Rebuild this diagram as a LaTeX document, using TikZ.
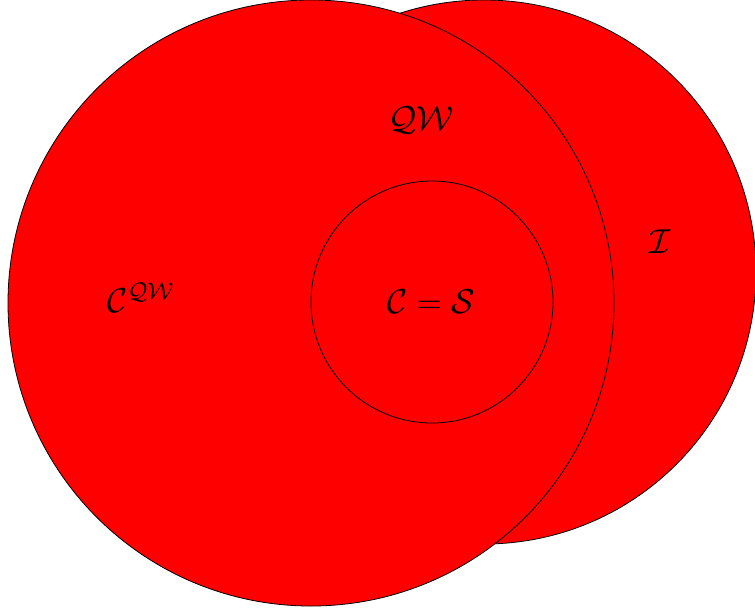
\documentclass[tikz,border=0pt]{standalone}
\usepackage{amsmath}
\usepackage{tikz}

\begin{document}
\begin{tikzpicture}[
    x=0.5pt, y=-0.5pt,
    set/.style    = {circle, draw=black, fill=red, line width=0.4pt,
                     inner sep=0pt, outer sep=0pt},
    setlabel/.style = {font=\fontsize{18}{21}\selectfont},
]

\useasboundingbox (0,0) rectangle (755,612);

%% Sets
\node[set, minimum size=272pt] (I)  at (484,272) {};
\node[set, minimum size=303pt] (QW) at (311,303) {};
\node[set, minimum size=121pt] (CS) at (432,302) {};

%% Labels
\node[setlabel] (lQW)  at (421,120) {$\mathcal{QW}$};
\node[setlabel] (lI)   at (660,242) {$\mathcal{I}$};
\node[setlabel] (lCQW) at (141,298) {$\mathcal{C}^{\mathcal{QW}}$};
\node[setlabel] (lCS)  at (431,302) {$\mathcal{C}=\mathcal{S}$};

\end{tikzpicture}
\end{document}
